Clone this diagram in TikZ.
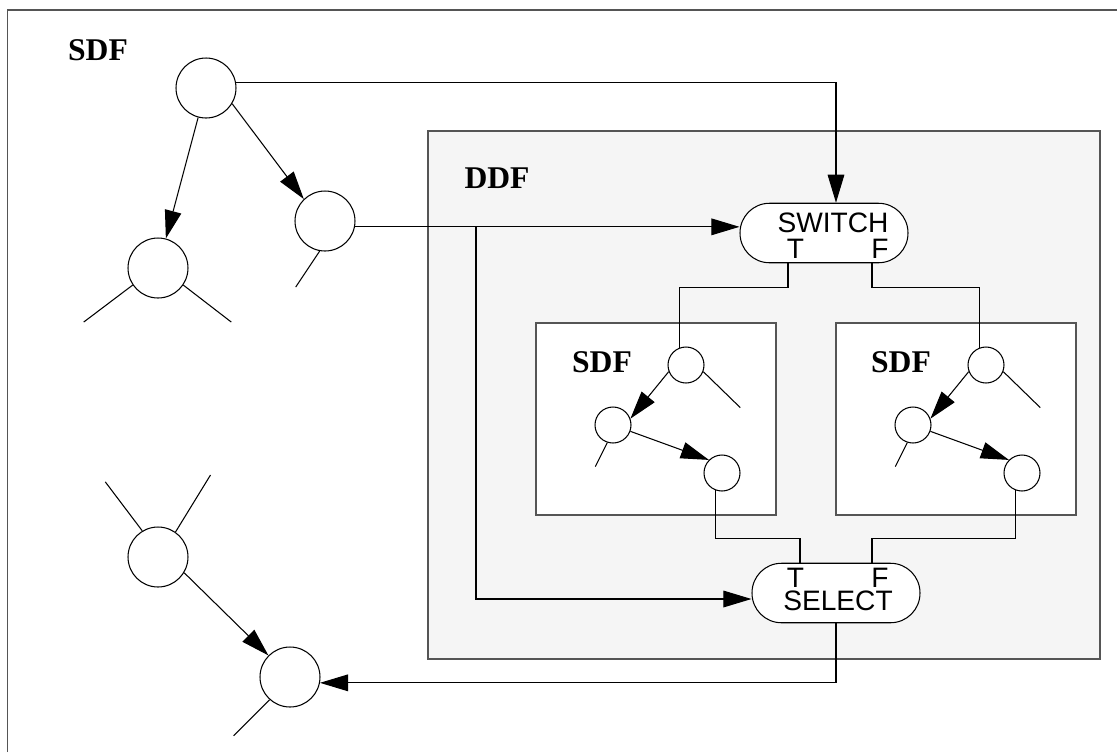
\documentclass[tikz,border=0pt]{standalone}
\usepackage{fontspec}
\setmainfont{Liberation Serif}
\setsansfont{Liberation Sans}
\usetikzlibrary{arrows.meta,calc}
\definecolor{ddfgray}{HTML}{F5F5F5}
\definecolor{framegray}{HTML}{555555}
\tikzset{
  actor/.style={draw,circle,fill=white,inner sep=0pt,minimum size=1.2cm,line width=0.6pt},
  smallactor/.style={draw,circle,fill=white,inner sep=0pt,minimum size=0.72cm,line width=0.6pt},
  pill/.style={draw,fill=white,rounded corners=0.59cm,minimum width=3.36cm,minimum height=1.19cm,line width=0.6pt},
  modelname/.style={font=\fontsize{18}{18}\selectfont\bfseries,inner sep=0pt},
  port/.style={font=\sffamily\fontsize{16}{16}\selectfont,inner sep=0pt},
  flow/.style={-{Triangle[length=16pt,width=9.5pt]},line width=0.6pt},
  wire/.style={line width=0.6pt},
  box/.style={draw=framegray,line width=1.1pt},
}

\begin{document}
\begin{tikzpicture}[x=0.02cm,y=-0.02cm]
    \useasboundingbox (0,0) rectangle (1117,752);
    \draw[box] (7.5,752) -- (7.5,10) -- (1117,10);
    \draw[box,fill=ddfgray] (428,131) rectangle (1100,659);
    \draw[box,fill=white] (536,323) rectangle (776,515);
    \draw[box,fill=white] (836,323) rectangle (1076,515);

    \node[modelname] (sdfout) at (98,50) {SDF};
    \node[modelname] (ddf) at (497,178) {DDF};
    \node[modelname] (sdft) at (602,362) {SDF};
    \node[modelname] (sdff) at (901,362) {SDF};

    \node[actor] (a1) at (206,88) {};
    \node[actor] (a2) at (158,268) {};
    \node[actor] (a3) at (325,221) {};
    \node[actor] (b1) at (158,557) {};
    \node[actor] (b2) at (290,677) {};
    \node[smallactor] (t1) at (686,365) {};
    \node[smallactor] (t2) at (613,425) {};
    \node[smallactor] (t3) at (722,473) {};
    \node[smallactor] (f1) at (986,365) {};
    \node[smallactor] (f2) at (913,425) {};
    \node[smallactor] (f3) at (1022,473) {};

    \node[pill] (sw) at (824,233) {};
    \node[port] (swname) at (833,223) {SWITCH};
    \node[port] (swt) at (795.5,249) {T};
    \node[port] (swf) at (880,249) {F};
    \node[pill] (sel) at (836,593) {};
    \node[port] (selname) at (838,601) {SELECT};
    \node[port] (selt) at (795.5,578) {T};
    \node[port] (self) at (880,578) {F};
    \coordinate (fork) at (476,227);

    % outer SDF graph
    \draw[flow] (a1) -- (a2);
    \draw[flow] (a1.-31) -- (a3.134);
    \draw[wire] (a2.214) -- ++(-49,37);
    \draw[wire] (a2.-34) -- ++(48,37);
    \draw[wire] (a3.260) -- ++(-24,36);
    \draw[flow] (a1.10) -| ($(sw.north)+(12,0)$);
    \draw[flow] (a3.-11) -- (a3.-11 -| sw.west);
    \draw[flow] (fork) |- ($(sel.west)+(0,6)$);

    % switch outputs
    \draw[wire] ($(sw.south)+(-36,0)$) -- ++(0,24) -| (t1.110);
    \draw[wire] ($(sw.south)+(48,0)$) -- ++(0,24) -| (f1.110);

    % true branch
    \draw[flow] (t1.201) -- (t2.20);
    \draw[flow] (t2.-20) -- (t3.135);
    \draw[wire] (t1.-21) -- ++(37,36);
    \draw[wire] (t2.252) -- ++(-12,24);

    % false branch
    \draw[flow] (f1.201) -- (f2.20);
    \draw[flow] (f2.-20) -- (f3.135);
    \draw[wire] (f1.-21) -- ++(37,36);
    \draw[wire] (f2.252) -- ++(-12,24);

    % select inputs and output
    \draw[wire] ($(sel.north)+(-36,0)$) -- ++(0,-24) -| (t3.250);
    \draw[wire] ($(sel.north)+(36,0)$) -- ++(0,-24) -| (f3.250);
    \draw[flow] (sel.south) |- (b2.-11);

    \draw[flow] (b1.-31) -- (b2.135);
    \draw[wire] (b1.121) -- ++(-37,-49);
    \draw[wire] (b1.55) -- ++(35,-57);
    \draw[wire] (b2.228) -- ++(-36,36);
\end{tikzpicture}
\end{document}
